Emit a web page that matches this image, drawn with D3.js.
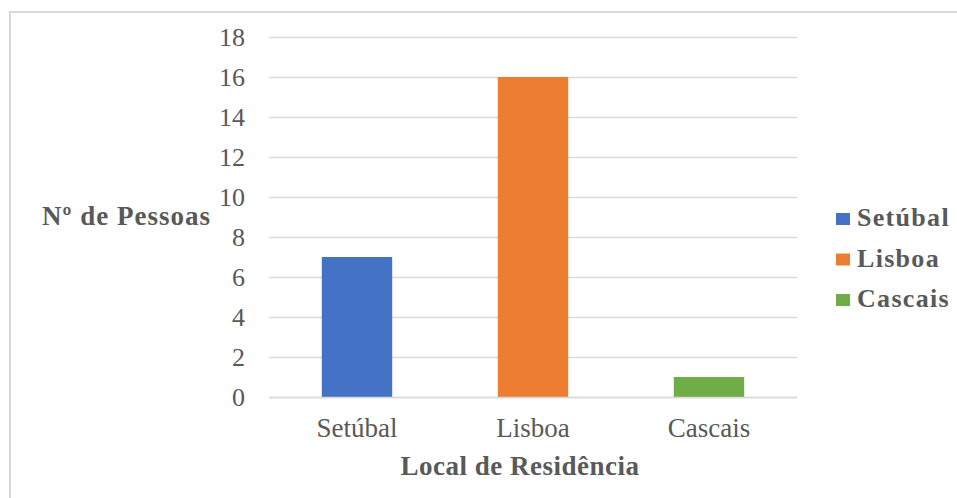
<!DOCTYPE html>
<html>
<head>
<meta charset="utf-8">
<script src="https://cdn.jsdelivr.net/npm/d3@7"></script>
<style>
  html, body { margin: 0; padding: 0; background: #fff; }
  svg { display: block; }
</style>
</head>
<body>
<svg id="chart" width="957" height="498"></svg>
<script>
// Number of people by place of residence
const categories = ["Setúbal", "Lisboa", "Cascais"];
const values = [7, 16, 1];
const colors = ["#4472C4", "#ED7D31", "#70AD47"];
const yTicks = [0, 2, 4, 6, 8, 10, 12, 14, 16, 18];
const xTitle = "Local de Residência";
const yTitle = "Nº de Pessoas";

const svg = d3.select("#chart");
const textColor = "#595959";
const serif = "'Liberation Serif', 'Times New Roman', serif";

// Outer frame (top and left edges visible)
svg.append("path")
  .attr("d", "M10,498 V12 H957")
  .attr("fill", "none")
  .attr("stroke", "#d9d9d9")
  .attr("stroke-width", 2);

const plot = { left: 269, right: 797, top: 37, bottom: 397 };

const x = d3.scaleBand()
  .domain(categories)
  .range([plot.left, plot.right])
  .paddingInner(0.6)
  .paddingOuter(0.3);

const y = d3.scaleLinear()
  .domain([0, 18])
  .range([plot.bottom, plot.top]);

// Horizontal gridlines
svg.append("g")
  .selectAll("line")
  .data(yTicks)
  .join("line")
  .attr("x1", plot.left)
  .attr("x2", plot.right)
  .attr("y1", d => Math.round(y(d)) + 0.5)
  .attr("y2", d => Math.round(y(d)) + 0.5)
  .attr("stroke", "#d9d9d9")
  .attr("stroke-width", 1.5);

// Y axis tick labels
const yAxis = svg.append("g")
  .attr("transform", `translate(${plot.left},0)`)
  .call(d3.axisLeft(y).tickValues(yTicks).tickSize(0).tickPadding(24).tickFormat(d3.format("d")));
yAxis.select(".domain").remove();
yAxis.selectAll("text")
  .attr("font-family", serif)
  .attr("font-size", 26)
  .attr("fill", textColor)
  .attr("dy", "0.34em");

// Bars
svg.append("g")
  .selectAll("rect")
  .data(categories)
  .join("rect")
  .attr("x", d => x(d))
  .attr("width", x.bandwidth())
  .attr("y", (d, i) => y(values[i]))
  .attr("height", (d, i) => y(0) - y(values[i]))
  .attr("fill", (d, i) => colors[i]);

// Baseline
svg.append("line")
  .attr("x1", plot.left).attr("x2", plot.right)
  .attr("y1", plot.bottom + 0.5).attr("y2", plot.bottom + 0.5)
  .attr("stroke", "#d9d9d9").attr("stroke-width", 1.5);

// X axis category labels
const xAxis = svg.append("g")
  .attr("transform", `translate(0,${plot.bottom})`)
  .call(d3.axisBottom(x).tickSize(0).tickPadding(21));
xAxis.select(".domain").remove();
xAxis.selectAll("text")
  .attr("font-family", serif)
  .attr("font-size", 27)
  .attr("fill", textColor);

// Axis titles
svg.append("text")
  .attr("x", 520)
  .attr("y", 475)
  .attr("text-anchor", "middle")
  .attr("font-family", serif)
  .attr("font-weight", "bold")
  .attr("font-size", 27)
  .attr("letter-spacing", 0.5)
  .attr("fill", textColor)
  .text(xTitle);

svg.append("text")
  .attr("x", 42)
  .attr("y", 225)
  .attr("font-family", serif)
  .attr("font-weight", "bold")
  .attr("font-size", 27)
  .attr("letter-spacing", 1)
  .attr("fill", textColor)
  .text(yTitle);

// Legend
const legend = svg.append("g")
  .selectAll("g")
  .data(categories)
  .join("g")
  .attr("transform", (d, i) => `translate(836,${226 + i * 40.5})`);

legend.append("rect")
  .attr("x", 0)
  .attr("y", -13)
  .attr("width", 14)
  .attr("height", 12)
  .attr("fill", (d, i) => colors[i]);

legend.append("text")
  .attr("x", 21)
  .attr("y", 0)
  .attr("font-family", serif)
  .attr("font-weight", "bold")
  .attr("font-size", 26)
  .attr("letter-spacing", 1.3)
  .attr("fill", textColor)
  .text(d => d);
</script>
</body>
</html>
